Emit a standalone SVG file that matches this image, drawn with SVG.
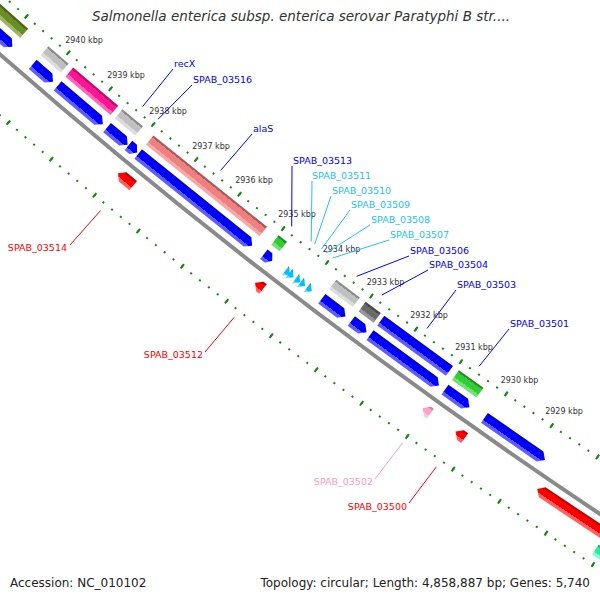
<svg xmlns="http://www.w3.org/2000/svg" width="600" height="600" viewBox="0 0 600 600">
<style>
text{font-family:"DejaVu Sans","Liberation Sans",sans-serif}
.kbp{font-size:8px;fill:#333}
.lab{font-size:9.5px}
.tb{fill:#0000ff}.tc{fill:#22bfff}.tr{fill:#ff0000}.tp{fill:#ff99cc}
.title{font-size:13.5px;font-style:italic;fill:#333}
.foot{font-size:12px;fill:#222}
.bl{fill:url(#gBlue)}.rd{fill:url(#gRed)}.ol{fill:url(#gOlive)}.gy{fill:url(#gGray)}.dg{fill:url(#gDark)}
.mg{fill:url(#gMag)}.sa{fill:url(#gSal)}.gr{fill:url(#gGreen)}.cy{fill:url(#gCyan)}.pk{fill:url(#gPink)}.tl{fill:url(#gTeal)}
.tick{fill:none;stroke:#108a10}
#connectors line{stroke-width:1}
</style>
<defs>
<linearGradient id="gBlue"><stop offset="0" stop-color="#0000d0"/><stop offset=".18" stop-color="#0000d0"/><stop offset=".18" stop-color="#0000ff"/><stop offset=".7" stop-color="#0000ff"/><stop offset=".7" stop-color="#5c5cff"/><stop offset="1" stop-color="#5c5cff"/></linearGradient>
<linearGradient id="gRed"><stop offset="0" stop-color="#c40000"/><stop offset=".18" stop-color="#c40000"/><stop offset=".18" stop-color="#ff0000"/><stop offset=".7" stop-color="#ff0000"/><stop offset=".7" stop-color="#ff6060"/><stop offset="1" stop-color="#ff6060"/></linearGradient>
<linearGradient id="gOlive"><stop offset="0" stop-color="#4b6418"/><stop offset=".18" stop-color="#4b6418"/><stop offset=".18" stop-color="#6b8e23"/><stop offset=".7" stop-color="#6b8e23"/><stop offset=".7" stop-color="#9cb465"/><stop offset="1" stop-color="#9cb465"/></linearGradient>
<linearGradient id="gGray"><stop offset="0" stop-color="#8c8c8c"/><stop offset=".18" stop-color="#8c8c8c"/><stop offset=".18" stop-color="#c0c0c0"/><stop offset=".7" stop-color="#c0c0c0"/><stop offset=".7" stop-color="#dcdcdc"/><stop offset="1" stop-color="#dcdcdc"/></linearGradient>
<linearGradient id="gDark"><stop offset="0" stop-color="#4a4a4a"/><stop offset=".18" stop-color="#4a4a4a"/><stop offset=".18" stop-color="#6a6a6a"/><stop offset=".7" stop-color="#6a6a6a"/><stop offset=".7" stop-color="#969696"/><stop offset="1" stop-color="#969696"/></linearGradient>
<linearGradient id="gMag"><stop offset="0" stop-color="#b80e6a"/><stop offset=".18" stop-color="#b80e6a"/><stop offset=".18" stop-color="#ff1493"/><stop offset=".7" stop-color="#ff1493"/><stop offset=".7" stop-color="#ff66b8"/><stop offset="1" stop-color="#ff66b8"/></linearGradient>
<linearGradient id="gSal"><stop offset="0" stop-color="#a85a5a"/><stop offset=".18" stop-color="#a85a5a"/><stop offset=".18" stop-color="#f08080"/><stop offset=".7" stop-color="#f08080"/><stop offset=".7" stop-color="#f5a8a8"/><stop offset="1" stop-color="#f5a8a8"/></linearGradient>
<linearGradient id="gGreen"><stop offset="0" stop-color="#238f23"/><stop offset=".18" stop-color="#238f23"/><stop offset=".18" stop-color="#32cd32"/><stop offset=".7" stop-color="#32cd32"/><stop offset=".7" stop-color="#70e070"/><stop offset="1" stop-color="#70e070"/></linearGradient>
<linearGradient id="gCyan"><stop offset="0" stop-color="#0090c0"/><stop offset=".18" stop-color="#0090c0"/><stop offset=".18" stop-color="#00bfff"/><stop offset=".7" stop-color="#00bfff"/><stop offset=".7" stop-color="#66d9ff"/><stop offset="1" stop-color="#66d9ff"/></linearGradient>
<linearGradient id="gPink"><stop offset="0" stop-color="#d884a8"/><stop offset=".18" stop-color="#d884a8"/><stop offset=".18" stop-color="#ffa0c8"/><stop offset=".7" stop-color="#ffa0c8"/><stop offset=".7" stop-color="#ffc8e0"/><stop offset="1" stop-color="#ffc8e0"/></linearGradient>
<linearGradient id="gTeal"><stop offset="0" stop-color="#10b878"/><stop offset=".18" stop-color="#10b878"/><stop offset=".18" stop-color="#20f0a0"/><stop offset=".7" stop-color="#20f0a0"/><stop offset=".7" stop-color="#80ffd0"/><stop offset="1" stop-color="#80ffd0"/></linearGradient>
</defs>
<rect width="600" height="600" fill="#fff"/>

<g id="rulers" transform="translate(3815,-4305) rotate(131.7945)">
<path class="tick" d="M5747,0 A5747,5747 0 0 0 5678.49,-884.76" stroke-width="2" stroke-dasharray="2 9.104" stroke-dashoffset="1"/>
<path class="tick" d="M5747,0 A5747,5747 0 0 0 5678.49,-884.76" stroke-width="5.5" stroke-dasharray="2 53.52" stroke-dashoffset="1"/>
<path class="tick" d="M5839,0 A5839,5839 0 0 0 5769.39,-898.93" stroke-width="2" stroke-dasharray="2 9.282" stroke-dashoffset="1"/>
<path class="tick" d="M5839,0 A5839,5839 0 0 0 5769.39,-898.93" stroke-width="5.5" stroke-dasharray="2 54.41" stroke-dashoffset="1"/>
</g>
<g id="backbone" transform="translate(3815,-4305) rotate(131.7945)">
<path d="M5793,0 A5793,5793 0 0 0 5723.94,-891.84" fill="none" stroke="#8a8a8a" stroke-width="4"/>
</g>

<g id="tick-labels" class="kbp">
<text x="84" y="42.5" text-anchor="middle">2940 kbp</text>
<text x="126" y="78" text-anchor="middle">2939 kbp</text>
<text x="168" y="114" text-anchor="middle">2938 kbp</text>
<text x="211" y="149" text-anchor="middle">2937 kbp</text>
<text x="254" y="183" text-anchor="middle">2936 kbp</text>
<text x="297" y="217" text-anchor="middle">2935 kbp</text>
<text x="341.5" y="252" text-anchor="middle">2934 kbp</text>
<text x="385.5" y="285" text-anchor="middle">2933 kbp</text>
<text x="429" y="318" text-anchor="middle">2932 kbp</text>
<text x="474" y="350" text-anchor="middle">2931 kbp</text>
<text x="519.5" y="383" text-anchor="middle">2930 kbp</text>
<text x="564" y="414" text-anchor="middle">2929 kbp</text>
</g>

<g id="connectors" fill="none">
<line x1="173" y1="69" x2="142.7" y2="106.5" stroke="#0000ff"/>
<line x1="192" y1="85" x2="158.1" y2="119.2" stroke="#0000ff"/>
<line x1="252" y1="134" x2="220.7" y2="170.4" stroke="#0000ff"/>
<line x1="292" y1="166" x2="291.7" y2="226.4" stroke="#0000ff"/>
<line x1="312" y1="181" x2="311.2" y2="241.5" stroke="#22bfff"/>
<line x1="331" y1="196" x2="314.7" y2="244.2" stroke="#22bfff"/>
<line x1="350" y1="210" x2="321.3" y2="249.2" stroke="#22bfff"/>
<line x1="370" y1="225" x2="326.1" y2="253" stroke="#22bfff"/>
<line x1="389" y1="240" x2="332.7" y2="258" stroke="#22bfff"/>
<line x1="409" y1="256" x2="356.7" y2="276.3" stroke="#0000ff"/>
<line x1="428" y1="270" x2="381.8" y2="295.1" stroke="#0000ff"/>
<line x1="456" y1="290" x2="427" y2="328.4" stroke="#0000ff"/>
<line x1="509" y1="329" x2="479.2" y2="366.2" stroke="#0000ff"/>
<line x1="70" y1="245" x2="100.6" y2="210.5" stroke="#ff0000"/>
<line x1="205" y1="352" x2="234.2" y2="317.3" stroke="#ff0000"/>
<line x1="375" y1="479" x2="402.5" y2="442.8" stroke="#ff99cc"/>
<line x1="409" y1="503" x2="436.4" y2="466.8" stroke="#ff0000"/>
</g>

<g id="gene-2941">
<g transform="translate(3815,-4305) rotate(131.609)"><rect class="ol" x="5755" y="-46.45" width="12" height="92.9"/><polygon class="bl" points="5773,46.6 5785,46.6 5785,-40.6 5779,-46.6 5773,-40.6"/></g>
</g>
<g id="gene-2940">
<g transform="translate(3815,-4305) rotate(130.748)"><rect class="gy" x="5755" y="-13.35" width="12" height="26.7"/><polygon class="bl" points="5773,13.4 5785,13.4 5785,-7.4 5779,-13.4 5773,-7.4"/></g>
</g>
<g id="gene-2939">
<g transform="translate(3815,-4305) rotate(130.261)"><rect class="mg" x="5755" y="-29.5" width="12" height="59"/><polygon class="bl" points="5773,29.6 5785,29.6 5785,-23.6 5779,-29.6 5773,-23.6"/></g>
</g>
<g id="recX">
<g transform="translate(3815,-4305) rotate(129.78)"><rect class="gy" x="5755" y="-13.35" width="12" height="26.7"/><polygon class="bl" points="5773,13.4 5785,13.4 5785,-7.4 5779,-13.4 5773,-7.4"/></g>
<text class="lab tb" x="174" y="67">recX</text>
</g>
<g id="SPAB_03516">
<g transform="translate(3815,-4305) rotate(129.581)"><polygon class="bl" points="5773,5.6 5785,5.6 5785,-0.4 5779,-5.6 5773,-0.4"/></g>
<text class="lab tb" x="193" y="83">SPAB_03516</text>
</g>
<g id="alaS">
<g transform="translate(3815,-4305) rotate(128.783)"><rect class="sa" x="5755" y="-72.9" width="12" height="145.8"/><polygon class="bl" points="5773,73.15 5785,73.15 5785,-67.15 5779,-73.15 5773,-67.15"/></g>
<text class="lab tb" x="253" y="132">alaS</text>
</g>
<g id="SPAB_03513">
<g transform="translate(3815,-4305) rotate(127.862)"><rect class="gr" x="5755" y="-5.3" width="12" height="10.6"/><polygon class="bl" points="5773,5.3 5785,5.3 5785,-0.7 5779,-5.3 5773,-0.7"/></g>
<text class="lab tb" x="293" y="164">SPAB_03513</text>
</g>
<g id="SPAB_03511">
<polygon class="cy" transform="translate(3815,-4305) rotate(127.6156)" points="5773,3 5785,3 5779,-3"/>
<text class="lab tc" x="312" y="179">SPAB_03511</text>
</g>
<g id="SPAB_03510">
<polygon class="cy" transform="translate(3815,-4305) rotate(127.5713)" points="5773,3 5785,3 5779,-3"/>
<text class="lab tc" x="332" y="194">SPAB_03510</text>
</g>
<g id="SPAB_03509">
<polygon class="cy" transform="translate(3815,-4305) rotate(127.4883)" points="5773,3 5785,3 5779,-3"/>
<text class="lab tc" x="351" y="208">SPAB_03509</text>
</g>
<g id="SPAB_03508">
<polygon class="cy" transform="translate(3815,-4305) rotate(127.4274)" points="5773,3 5785,3 5779,-3"/>
<text class="lab tc" x="371" y="223">SPAB_03508</text>
</g>
<g id="SPAB_03507">
<polygon class="cy" transform="translate(3815,-4305) rotate(127.3444)" points="5773,3 5785,3 5779,-3"/>
<text class="lab tc" x="390" y="238">SPAB_03507</text>
</g>
<g id="SPAB_03506">
<g transform="translate(3815,-4305) rotate(127.043)"><rect class="gy" x="5755" y="-14.75" width="12" height="29.5"/><polygon class="bl" points="5773,14.8 5785,14.8 5785,-8.8 5779,-14.8 5773,-8.8"/></g>
<text class="lab tb" x="410" y="254">SPAB_03506</text>
</g>
<g id="SPAB_03504">
<g transform="translate(3815,-4305) rotate(126.73)"><rect class="dg" x="5755" y="-9.45" width="12" height="18.9"/><polygon class="bl" points="5773,9.5 5785,9.5 5785,-3.5 5779,-9.5 5773,-3.5"/></g>
<text class="lab tb" x="429" y="268">SPAB_03504</text>
</g>
<g id="SPAB_03503">
<g transform="translate(3815,-4305) rotate(126.168)"><rect class="bl" x="5755" y="-42.55" width="12" height="85.1"/><polygon class="bl" points="5773,42.7 5785,42.7 5785,-36.7 5779,-42.7 5773,-36.7"/></g>
<text class="lab tb" x="457" y="288">SPAB_03503</text>
</g>
<g id="SPAB_03501">
<g transform="translate(3815,-4305) rotate(125.523)"><rect class="gr" x="5755" y="-15.05" width="12" height="30.1"/><polygon class="bl" points="5773,15.05 5785,15.05 5785,-9.05 5779,-15.05 5773,-9.05"/></g>
<text class="lab tb" x="510" y="327">SPAB_03501</text>
</g>
<g id="gene-2929">
<polygon class="bl" transform="translate(3815,-4305) rotate(124.826)" points="5773,36.85 5785,36.85 5785,-30.85 5779,-36.85 5773,-30.85"/>
</g>

<g id="SPAB_03514">
<polygon class="rd" transform="translate(3815,-4305) rotate(129.445)" points="5801,-9.8 5813,-9.8 5813,3.8 5807,9.8 5801,3.8"/>
<text class="lab tr" x="67" y="251" text-anchor="end">SPAB_03514</text>
</g>
<g id="SPAB_03512">
<polygon class="rd" transform="translate(3815,-4305) rotate(127.76)" points="5801,-5.05 5813,-5.05 5813,-0.95 5807,5.05 5801,-0.95"/>
<text class="lab tr" x="203" y="358" text-anchor="end">SPAB_03512</text>
</g>
<g id="SPAB_03502">
<polygon class="pk" transform="translate(3815,-4305) rotate(125.698)" points="5801,-4.75 5813,-4.75 5813,-1.25 5807,4.75 5801,-1.25"/>
<text class="lab tp" x="373" y="485" text-anchor="end">SPAB_03502</text>
</g>
<g id="SPAB_03500">
<polygon class="rd" transform="translate(3815,-4305) rotate(125.291)" points="5801,-5.6 5813,-5.6 5813,-0.4 5807,5.6 5801,-0.4"/>
<text class="lab tr" x="407" y="510" text-anchor="end">SPAB_03500</text>
</g>
<g id="gene-2927">
<polygon class="rd" transform="translate(3815,-4305) rotate(123.65)" points="5801,-72.1 5813,-72.1 5813,66.1 5807,72.1 5801,66.1"/>
</g>
<g id="gene-2926">
<rect class="tl" transform="translate(3815,-4305) rotate(123.107)" x="5819" y="-45.3" width="12" height="90.6"/>
</g>

<text class="title" x="301" y="21" text-anchor="middle">Salmonella enterica subsp. enterica serovar Paratyphi B str....</text>
<text class="foot" x="10" y="587">Accession: NC_010102</text>
<text class="foot" x="590" y="587" text-anchor="end">Topology: circular; Length: 4,858,887 bp; Genes: 5,740</text>
</svg>
